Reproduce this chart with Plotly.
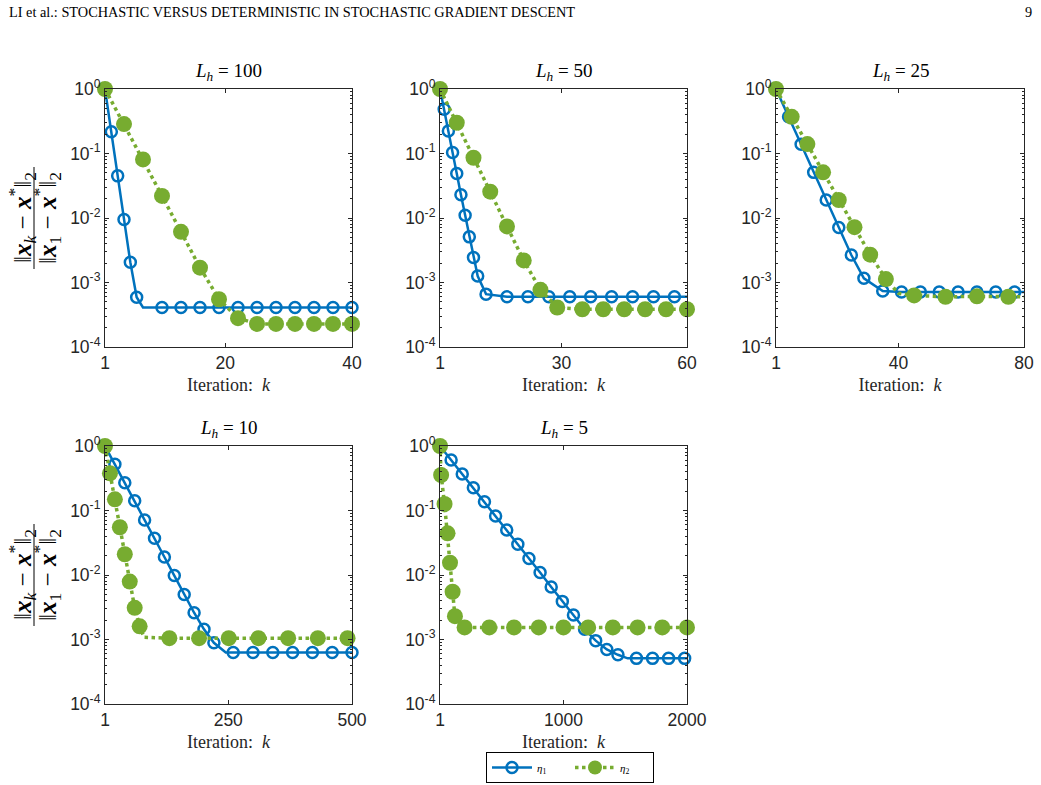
import plotly.graph_objects as go

# ---------------- data ----------------
PANEL_LH = ["100", "50", "25", "10", "5"]
X_MAX = [40, 60, 80, 500, 2000]
X_TICKS = [[1, 20, 40], [1, 30, 60], [1, 40, 80], [1, 250, 500], [1, 1000, 2000]]
Y_TICK_VALS = [1e-4, 1e-3, 1e-2, 1e-1, 1]
Y_TICK_TEXT = ["10<sup>-4</sup>", "10<sup>-3</sup>", "10<sup>-2</sup>", "10<sup>-1</sup>", "10<sup>0</sup>"]

# L_h = 100
LH100_ETA1_K = [1, 2, 3, 4, 5, 6, 10, 13, 16, 19, 22, 25, 28, 31, 34, 37, 40]
LH100_ETA1_V = [1, 0.218, 0.045, 0.0095, 0.00206, 0.00059, 0.00041, 0.00041, 0.00041, 0.00041,
                0.00041, 0.00041, 0.00041, 0.00041, 0.00041, 0.00041, 0.00041]
LH100_ETA1_BEND_K = [7]
LH100_ETA1_BEND_V = [0.00041]
LH100_ETA2_K = [1, 4, 7, 10, 13, 16, 19, 22, 25, 28, 31, 34, 37, 40]
LH100_ETA2_V = [1, 0.286, 0.081, 0.022, 0.0061, 0.0017, 0.00055, 0.00028, 0.000228, 0.000228,
                0.000228, 0.000228, 0.000228, 0.000228]
LH100_ETA2_BEND_K = []
LH100_ETA2_BEND_V = []

# L_h = 50
LH50_ETA1_K = [1, 2, 3, 4, 5, 6, 7, 8, 9, 10, 12, 17, 22, 27, 32, 37, 42, 47, 52, 57]
LH50_ETA1_V = [1, 0.484, 0.223, 0.104, 0.049, 0.023, 0.011, 0.0051, 0.00245, 0.00126, 0.00066,
               0.0006, 0.0006, 0.0006, 0.0006, 0.0006, 0.0006, 0.0006, 0.0006, 0.0006]
LH50_ETA1_BEND_K = [60]
LH50_ETA1_BEND_V = [0.0006]
LH50_ETA2_K = [1, 5, 9, 13, 17, 21, 25, 29, 35, 40, 45, 50, 55, 60]
LH50_ETA2_V = [1, 0.30, 0.086, 0.0256, 0.0074, 0.0022, 0.00077, 0.00041, 0.000385, 0.000385,
               0.000385, 0.000385, 0.000385, 0.000385]
LH50_ETA2_BEND_K = []
LH50_ETA2_BEND_V = []

# L_h = 25
LH25_ETA1_K = [1, 5, 9, 13, 17, 21, 25, 29, 35, 41, 47, 53, 59, 65, 71, 77]
LH25_ETA1_V = [1, 0.372, 0.139, 0.051, 0.019, 0.0071, 0.00267, 0.00116, 0.00074, 0.00071,
               0.00071, 0.00071, 0.00071, 0.00071, 0.00071, 0.00071]
LH25_ETA1_BEND_K = [80]
LH25_ETA1_BEND_V = [0.00071]
LH25_ETA2_K = [1, 6, 11, 16, 21, 26, 31, 36, 45, 55, 65, 75]
LH25_ETA2_V = [1, 0.37, 0.14, 0.051, 0.019, 0.0072, 0.0027, 0.00113, 0.00063, 0.0006, 0.00061, 0.0006]
LH25_ETA2_BEND_K = [40, 80]
LH25_ETA2_BEND_V = [0.00068, 0.0006]

# L_h = 10
LH10_ETA1_K = [1, 21, 41, 61, 81, 101, 121, 141, 161, 181, 201, 221, 260, 300, 340, 380, 420, 460, 500]
LH10_ETA1_V = [1, 0.52, 0.27, 0.142, 0.071, 0.037, 0.019, 0.0098, 0.005, 0.0026, 0.00144, 0.00089,
               0.00063, 0.00063, 0.00063, 0.00063, 0.00063, 0.00063, 0.00063]
LH10_ETA1_BEND_K = [245]
LH10_ETA1_BEND_V = [0.00063]
LH10_ETA2_K = [1, 11, 21, 31, 41, 51, 61, 71, 131, 191, 251, 311, 371, 431, 491]
LH10_ETA2_V = [1, 0.377, 0.149, 0.055, 0.021, 0.0079, 0.0031, 0.0016, 0.00105, 0.00105, 0.00105,
               0.00105, 0.00105, 0.00105, 0.00105]
LH10_ETA2_BEND_K = [80, 500]
LH10_ETA2_BEND_V = [0.00108, 0.00105]

# L_h = 5
LH5_ETA1_K = [1, 91, 181, 271, 361, 451, 541, 631, 721, 811, 901, 991, 1081, 1171, 1261, 1351,
              1441, 1591, 1721, 1851, 1981]
LH5_ETA1_V = [1, 0.607, 0.368, 0.226, 0.137, 0.082, 0.0499, 0.030, 0.018, 0.0109, 0.0065, 0.0039,
              0.0024, 0.00144, 0.00096, 0.00070, 0.00058, 0.00051, 0.00051, 0.00051, 0.00051]
LH5_ETA1_BEND_K = [1520, 2000]
LH5_ETA1_BEND_V = [0.00051, 0.00051]
LH5_ETA2_K = [1, 10, 38, 62, 82, 103, 122, 200, 400, 600, 800, 1000, 1200, 1400, 1600, 1800, 2000]
LH5_ETA2_V = [1, 0.355, 0.126, 0.0443, 0.0155, 0.0055, 0.0023, 0.00154, 0.00154, 0.00154, 0.00154,
              0.00154, 0.00154, 0.00154, 0.00154, 0.00154, 0.00154]
LH5_ETA2_BEND_K = [160]
LH5_ETA2_BEND_V = [0.00156]

SERIES = [
    ((LH100_ETA1_K, LH100_ETA1_V, LH100_ETA1_BEND_K, LH100_ETA1_BEND_V),
     (LH100_ETA2_K, LH100_ETA2_V, LH100_ETA2_BEND_K, LH100_ETA2_BEND_V)),
    ((LH50_ETA1_K, LH50_ETA1_V, LH50_ETA1_BEND_K, LH50_ETA1_BEND_V),
     (LH50_ETA2_K, LH50_ETA2_V, LH50_ETA2_BEND_K, LH50_ETA2_BEND_V)),
    ((LH25_ETA1_K, LH25_ETA1_V, LH25_ETA1_BEND_K, LH25_ETA1_BEND_V),
     (LH25_ETA2_K, LH25_ETA2_V, LH25_ETA2_BEND_K, LH25_ETA2_BEND_V)),
    ((LH10_ETA1_K, LH10_ETA1_V, LH10_ETA1_BEND_K, LH10_ETA1_BEND_V),
     (LH10_ETA2_K, LH10_ETA2_V, LH10_ETA2_BEND_K, LH10_ETA2_BEND_V)),
    ((LH5_ETA1_K, LH5_ETA1_V, LH5_ETA1_BEND_K, LH5_ETA1_BEND_V),
     (LH5_ETA2_K, LH5_ETA2_V, LH5_ETA2_BEND_K, LH5_ETA2_BEND_V)),
]

# ---------------- styling / layout ----------------
W, H = 1041, 785
BLUE = "#0072BD"
GREEN = "#77AC30"
AX = "#262626"
SANS = "Liberation Sans, Arial, sans-serif"
SERIF = "Liberation Serif, Times New Roman, serif"

COL_PX = [(105, 352), (440, 687), (776, 1024)]
ROW_PX = [(89, 347), (446, 704)]
POS = [(0, 0), (0, 1), (0, 2), (1, 0), (1, 1)]

MINOR_Y = [m * 10 ** d for d in range(-4, 0) for m in range(2, 10)]

fig = go.Figure()
layout = dict(
    width=W, height=H, autosize=False,
    margin=dict(l=0, r=0, t=0, b=0, pad=0),
    paper_bgcolor="white", plot_bgcolor="white",
    showlegend=True,
)
annotations = []
shapes = []

for i, (lh, xmax, xt) in enumerate(zip(PANEL_LH, X_MAX, X_TICKS)):
    r, c = POS[i]
    x0, x1 = COL_PX[c]
    y0, y1 = ROW_PX[r]
    n = "" if i == 0 else str(i + 1)
    xa, ya = "x" + n, "y" + n
    layout["xaxis" + n] = dict(
        domain=[x0 / W, x1 / W], anchor=ya, range=[1, xmax], automargin=False,
        tickmode="array", tickvals=xt, ticktext=[str(v) for v in xt],
        ticks="inside", ticklen=4, tickcolor=AX, showline=True, linecolor=AX, linewidth=1,
        mirror="ticks", showgrid=False, zeroline=False,
        tickfont=dict(family=SANS, size=17.5, color=AX),
        title=dict(text="Iteration:  <i>k</i>", font=dict(family=SERIF, size=18, color=AX), standoff=6),
    )
    layout["yaxis" + n] = dict(
        domain=[1 - y1 / H, 1 - y0 / H], anchor=xa, type="log", range=[-4, 0], automargin=False,
        tickmode="array", tickvals=Y_TICK_VALS, ticktext=Y_TICK_TEXT,
        ticks="inside", ticklen=4, tickcolor=AX, showline=True, linecolor=AX, linewidth=1,
        mirror="ticks", showgrid=False, zeroline=False,
        tickfont=dict(family=SANS, size=17.5, color=AX),
        minor=dict(tickmode="array", tickvals=MINOR_Y, ticks="inside", ticklen=2,
                   tickcolor=AX, showgrid=False),
    )
    annotations.append(dict(
        text="<i>L</i><sub><i>h</i></sub> = " + lh, xref="paper", yref="paper",
        x=(x0 + x1) / 2 / W, y=1 - (y0 - 17) / H, xanchor="center", yanchor="middle",
        showarrow=False, font=dict(family=SERIF, size=19, color="black"),
    ))

    for s, (k, v, bk, bv) in enumerate(SERIES[i]):
        pts = sorted(list(zip(k, v)) + list(zip(bk, bv)))
        color = BLUE if s == 0 else GREEN
        fig.add_trace(go.Scatter(
            x=[p[0] for p in pts], y=[p[1] for p in pts], xaxis=xa, yaxis=ya,
            mode="lines", showlegend=False, cliponaxis=False, hoverinfo="skip",
            line=dict(color=color, width=2.5 if s == 0 else 3.5, dash="solid" if s == 0 else "dot"),
        ))
        if s == 0:
            mk = dict(symbol="circle-open", size=11, color=BLUE, line=dict(color=BLUE, width=2.5))
        else:
            mk = dict(symbol="circle", size=16, color=GREEN, line=dict(width=0))
        fig.add_trace(go.Scatter(
            x=k, y=v, xaxis=xa, yaxis=ya, mode="markers", showlegend=False,
            cliponaxis=False, marker=mk,
        ))

# legend entries
fig.add_trace(go.Scatter(x=[None], y=[None], mode="lines+markers", name="<i>η</i><sub>1</sub>",
                         line=dict(color=BLUE, width=2.5),
                         marker=dict(symbol="circle-open", size=11, color=BLUE, line=dict(color=BLUE, width=2.5))))
fig.add_trace(go.Scatter(x=[None], y=[None], mode="lines+markers", name="<i>η</i><sub>2</sub>",
                         line=dict(color=GREEN, width=3.5, dash="dot"),
                         marker=dict(symbol="circle", size=14, color=GREEN)))

layout["legend"] = dict(
    orientation="h", x=570 / W, y=1 - 783 / H, xanchor="center", yanchor="bottom",
    bordercolor="black", borderwidth=1, bgcolor="white",
    font=dict(family=SERIF, size=11, color="black"), itemwidth=40,
    entrywidth=28, tracegroupgap=0,
)

# y-axis fraction labels
NUM = "‖<b><i>x</i></b><sub><i>k</i></sub> − <b><i>x</i></b><sup>*</sup>‖<sub>2</sub>"
DEN = "‖<b><i>x</i></b><sub>1</sub> − <b><i>x</i></b><sup>*</sup>‖<sub>2</sub>"
for (y0, y1) in ROW_PX:
    cy = (y0 + y1) / 2
    annotations.append(dict(text=NUM, xref="paper", yref="paper", x=22 / W, y=1 - cy / H,
                            xanchor="center", yanchor="middle", textangle=-90, showarrow=False,
                            font=dict(family=SERIF, size=25, color="black")))
    annotations.append(dict(text=DEN, xref="paper", yref="paper", x=47 / W, y=1 - cy / H,
                            xanchor="center", yanchor="middle", textangle=-90, showarrow=False,
                            font=dict(family=SERIF, size=25, color="black")))
    shapes.append(dict(type="line", xref="paper", yref="paper", x0=34 / W, x1=34 / W,
                       y0=1 - (cy - 51) / H, y1=1 - (cy + 51) / H, line=dict(color="black", width=1)))

# page header
annotations.append(dict(text="LI et al.: STOCHASTIC VERSUS DETERMINISTIC IN STOCHASTIC GRADIENT DESCENT",
                        xref="paper", yref="paper", x=7 / W, y=1 - 12 / H, xanchor="left", yanchor="middle",
                        showarrow=False, font=dict(family=SERIF, size=14.3, color="black")))
annotations.append(dict(text="9", xref="paper", yref="paper", x=1034 / W, y=1 - 12 / H,
                        xanchor="right", yanchor="middle", showarrow=False,
                        font=dict(family=SERIF, size=14.3, color="black")))

layout["annotations"] = annotations
layout["shapes"] = shapes
fig.update_layout(**layout)
fig.write_html("out.html")
